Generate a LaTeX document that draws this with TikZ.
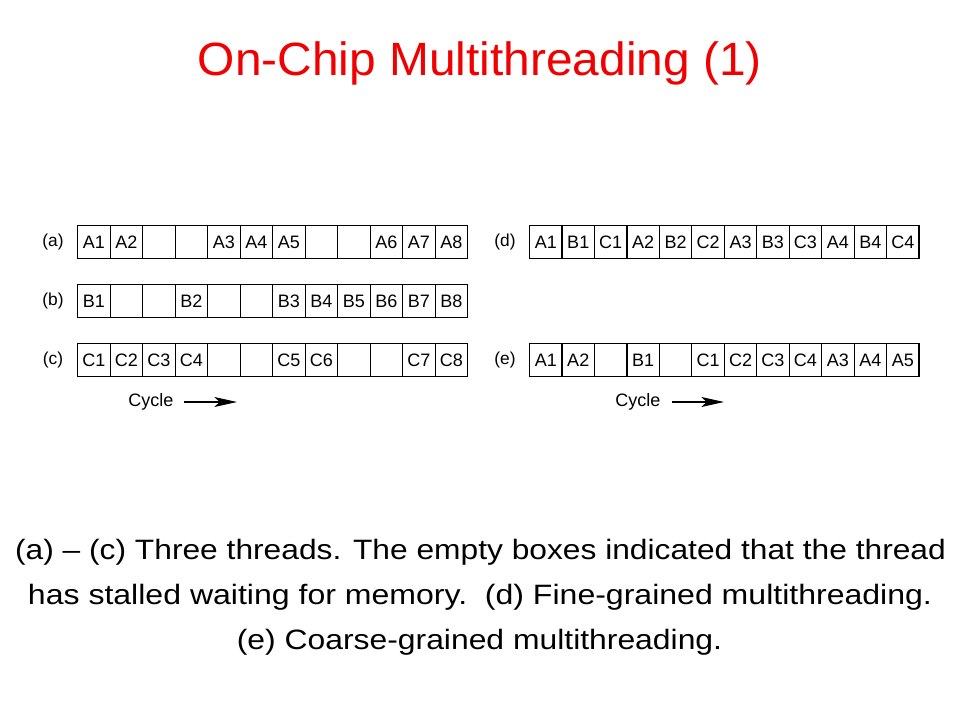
\documentclass[tikz,border=0pt]{standalone}
\usepackage{fontspec}
\setmainfont{Liberation Sans}
\usetikzlibrary{arrows.meta}
\definecolor{titlered}{RGB}{240,0,0}
\begin{document}
\begin{tikzpicture}[x=0.75pt,y=-0.75pt,
  cell/.style={draw,line width=0.8pt,minimum width=24.4pt,minimum height=24.75pt,inner sep=0pt,anchor=north west,font=\fontsize{13.5}{13.5}\selectfont},
  rowlab/.style={font=\fontsize{13}{13}\selectfont},
  cyc/.style={font=\fontsize{13.5}{13.5}\selectfont,anchor=west,inner sep=0pt},
  cycarrow/.style={line width=0.8pt,-{Stealth[length=17pt,width=7.5pt,inset=4pt]}},
  caption/.style={font=\fontsize{21}{21}\selectfont,inner sep=0pt}]
\useasboundingbox (0,0) rectangle (960,720);
\fill[white] (0,0) rectangle (960,720);
% title
\node[text=titlered,font=\fontsize{35}{35}\selectfont,inner sep=0pt] (title) at (480,63) {\resizebox{423pt}{\height}{On-Chip Multithreading (1)}};
% left rows
\foreach \r/\y/\lst in {a/225/{A1,A2,,,A3,A4,A5,,,A6,A7,A8},
                         b/284/{B1,,,B2,,,B3,B4,B5,B6,B7,B8},
                         c/343/{C1,C2,C3,C4,,,C5,C6,,,C7,C8}}{
  \node[rowlab] (lab\r) at (53,\y+17) {(\r)};
  \foreach \t [count=\i] in \lst {
    \node[cell] (\r\i) at ({77+(\i-1)*32.5},\y) {\t};
  }
}
% right rows
\foreach \r/\y/\lst in {d/225/{A1,B1,C1,A2,B2,C2,A3,B3,C3,A4,B4,C4},
                         e/343/{A1,A2,,B1,,C1,C2,C3,C4,A3,A4,A5}}{
  \node[rowlab] (lab\r) at (505,\y+17) {(\r)};
  \foreach \t [count=\i] in \lst {
    \node[cell] (\r\i) at ({529+(\i-1)*32.45},\y) {\t};
  }
}
% cycle arrows
\node[cyc] (cycL) at (128,402) {Cycle};
\coordinate (cycLs) at (184,402);
\coordinate (cycLe) at (237,402);
\draw[cycarrow] (cycLs) -- (cycLe);
\node[cyc] (cycR) at (615,402) {Cycle};
\coordinate (cycRs) at (672,402);
\coordinate (cycRe) at (724,402);
\draw[cycarrow] (cycRs) -- (cycRe);
% caption
\node[caption] (cap1) at (480.5,552) {\resizebox{698pt}{\height}{(a) – (c) Three threads. The empty boxes indicated that the thread}};
\node[caption] (cap2) at (480,597) {\resizebox{678pt}{\height}{has stalled waiting for memory.\ \ (d) Fine-grained multithreading.}};
\node[caption] (cap3) at (479.5,642) {\resizebox{364pt}{\height}{(e) Coarse-grained multithreading.}};
\end{tikzpicture}
\end{document}
